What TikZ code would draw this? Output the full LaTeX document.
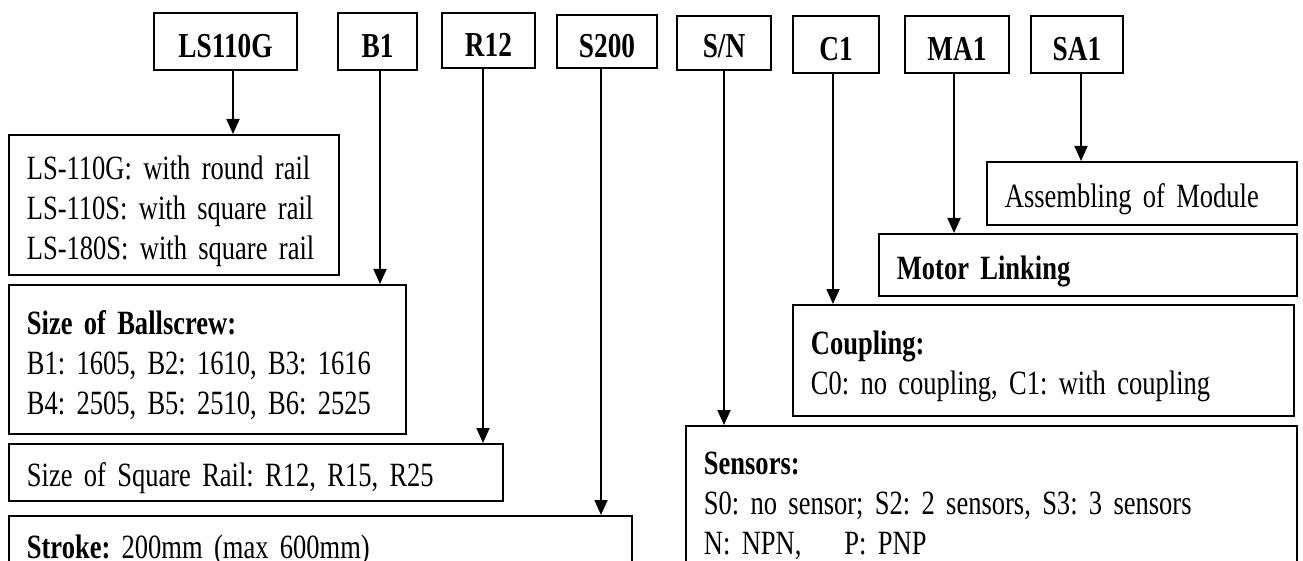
\documentclass[tikz,border=0pt]{standalone}
\usepackage{fontspec}
\setmainfont{Liberation Serif}[FakeStretch=0.78, WordSpace=0.8]
\usetikzlibrary{arrows.meta}
\frenchspacing
\newcommand\oneline[1]{\mbox{#1}}
\tikzset{
  topbox/.style={draw, line width=1.8pt, inner sep=0pt, text height=32pt, text depth=0pt,
    font=\fontsize{35}{40}\selectfont\bfseries},
  infobox/.style={draw, line width=1.8pt, anchor=north west, inner xsep=18pt, inner ysep=0pt,
    align=left, text height=36pt, font=\fontsize{34}{40}\selectfont\frenchspacing},
  conn/.style={line width=1.8pt, -{Triangle[width=13pt,length=15pt]}},
}
\begin{document}
\begin{tikzpicture}[x=1pt,y=-1pt]
\useasboundingbox (0,0) rectangle (1303,561);
\clip (0,0) rectangle (1303,561);

% top code boxes
\node[topbox, minimum width=143pt, minimum height=57pt] (ls110g) at (225.5,41.5) {LS110G};
\node[topbox, minimum width=79pt,  minimum height=57pt] (b1)     at (377.5,41.5) {B1};
\node[topbox, minimum width=93pt,  minimum height=55pt] (r12)    at (488.5,40.5) {R12};
\node[topbox, minimum width=100pt, minimum height=53pt] (s200)   at (607,41.5)   {S200};
\node[topbox, minimum width=94pt,  minimum height=54pt, text height=30pt] (sn) at (724,43) {S/N};
\node[topbox, minimum width=86pt,  minimum height=57pt] (c1)     at (836,44.5)   {C1};
\node[topbox, minimum width=104pt, minimum height=57pt] (ma1)    at (957,44.5)   {MA1};
\node[topbox, minimum width=92pt,  minimum height=57pt] (sa1)    at (1077,44.5)  {SA1};

% description boxes
\node[infobox, minimum width=330pt, minimum height=140pt, text width=294pt] (lsbox) at (8,134)
  {\oneline{LS-110G: with round rail}\\\oneline{LS-110S: with square rail}\\\oneline{LS-180S: with square rail}};
\node[infobox, minimum width=397pt, minimum height=149pt, text width=361pt] (bsbox) at (8,284)
  {\oneline{\textbf{Size of Ballscrew:}}\\\oneline{B1: 1605, B2: 1610, B3: 1616}\\\oneline{B4: 2505, B5: 2510, B6: 2525}};
\node[infobox, minimum width=494pt, minimum height=57pt, text width=458pt] (srbox) at (8,443)
  {\oneline{Size of Square Rail: R12, R15, R25}};
\node[infobox, minimum width=623pt, minimum height=65pt, text width=587pt, text height=28pt] (stbox) at (8,515)
  {\oneline{\textbf{Stroke:} 200mm (max 600mm)}};
\node[infobox, minimum width=310pt, minimum height=63pt, text width=274pt] (asbox) at (986,161)
  {\oneline{Assembling of Module}};
\node[infobox, minimum width=418pt, minimum height=62pt, text width=382pt] (mlbox) at (878,233)
  {\oneline{\textbf{Motor Linking}}};
\node[infobox, minimum width=501pt, minimum height=111pt, text width=465pt] (cpbox) at (792,304)
  {\oneline{\textbf{Coupling:}}\\\oneline{C0: no coupling, C1: with coupling}};
\node[infobox, minimum width=611pt, minimum height=152pt, text width=575pt, text height=30pt] (snbox) at (685,425)
  {\oneline{\textbf{Sensors:}}\\\oneline{S0: no sensor; S2: 2 sensors, S3: 3 sensors}\\\oneline{N: NPN,\hspace{43pt}P: PNP}};

% connectors
\draw[conn] (ls110g.south -| 233,0) -- (lsbox.north -| 233,0);
\draw[conn] (b1.south -| 380,0)     -- (bsbox.north -| 380,0);
\draw[conn] (r12.south -| 483,0)    -- (srbox.north -| 483,0);
\draw[conn] (s200.south -| 601,0)   -- (stbox.north -| 601,0);
\draw[conn] (sn.south -| 724,0)     -- (snbox.north -| 724,0);
\draw[conn] (c1.south -| 833,0)     -- (cpbox.north -| 833,0);
\draw[conn] (ma1.south -| 954,0)    -- (mlbox.north -| 954,0);
\draw[conn] (sa1.south -| 1081,0)   -- (asbox.north -| 1081,0);
\end{tikzpicture}
\end{document}
